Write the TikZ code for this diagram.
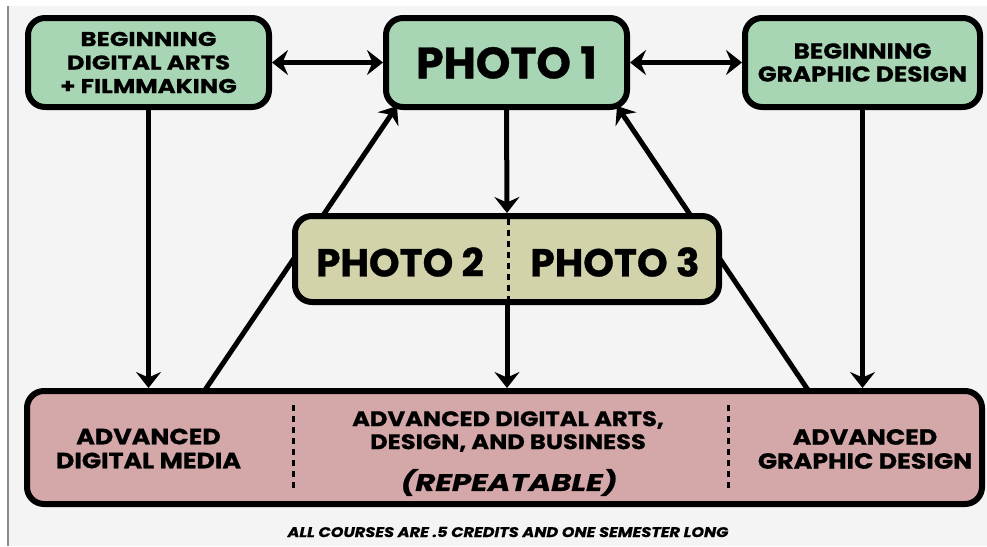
\documentclass[tikz,border=0pt]{standalone}
\usepackage{fontspec}
\setmainfont{Poppins}[FakeBold=0.8]
\newfontfamily\widefont{Poppins}[FakeStretch=1.15, FakeBold=0.8]
\newfontfamily\widerfont{Poppins}[FakeStretch=1.28, FakeBold=0.8]
\newfontfamily\widestfont{Poppins}[FakeStretch=1.22, FakeBold=0.8]
\usetikzlibrary{arrows.meta}
\definecolor{boxgreen}{HTML}{A8D5B4}
\definecolor{boxkhaki}{HTML}{D3D3AB}
\definecolor{boxpink}{HTML}{D4A7A8}
\definecolor{pagegray}{HTML}{F4F4F4}
\definecolor{edgegray}{HTML}{8A8A8A}
\tikzset{bigtip/.tip={Stealth[length=16pt,width=25pt,inset=5.5pt]}}
\begin{document}
\begin{tikzpicture}[x=1pt,y=-1pt,
  course/.style={draw=black, line width=6pt, rounded corners=17pt, inner sep=0pt, align=center},
  link/.style={line width=5pt, -bigtip},
  twoway/.style={line width=5pt, bigtip-bigtip},
  divider/.style={line width=3pt, dash pattern=on 6pt off 5pt},
  lbl/.style={align=center, inner sep=0pt, font=\widefont\fontsize{22}{24}\selectfont\bfseries}
]
\useasboundingbox (0,0) rectangle (987,546);
\fill[white] (0,0) rectangle (987,546);
\fill[pagegray] (8,6) rectangle (987,546);
\draw[edgegray, line width=1.2pt] (8,6) -- (8,546);

% diagonal connectors run behind the Photo 2/3 box
\coordinate (dl0) at (205,390);
\coordinate (dl1) at (397,106);
\coordinate (dr0) at (808,390);
\coordinate (dr1) at (617,106);
\draw[link] (dl0) -- (dl1);
\draw[link] (dr0) -- (dr1);

\node[course, fill=boxgreen, minimum width=241pt, minimum height=89pt,
      font=\widestfont\fontsize{20}{23.5}\selectfont\bfseries] (bda) at (148.5,62.5)
      {BEGINNING\\DIGITAL ARTS\\+ FILMMAKING};
\node[course, fill=boxgreen, minimum width=241pt, minimum height=89pt,
      font=\fontsize{44}{48}\selectfont\bfseries] (p1) at (506.5,62.5) {PHOTO 1};
\node[course, fill=boxgreen, minimum width=235pt, minimum height=89pt,
      font=\widefont\fontsize{21.5}{23}\selectfont\bfseries] (bgd) at (862.5,62.5)
      {BEGINNING\\GRAPHIC DESIGN};
\node[course, fill=boxkhaki, minimum width=424pt, minimum height=86pt] (p23) at (507,259) {};
\node[course, fill=boxpink, minimum width=955pt, minimum height=113pt] (adv) at (504.5,447.5) {};

\node[lbl, font=\fontsize{39}{40}\selectfont\bfseries] (t2) at (400,262) {PHOTO 2};
\node[lbl, font=\fontsize{39}{40}\selectfont\bfseries] (t3) at (615,262) {PHOTO 3};
\draw[divider] (508,219) -- (508,302);

\node[lbl] (adm) at (148.5,448.5) {ADVANCED\\DIGITAL MEDIA};
\node[lbl, font=\widefont\fontsize{21}{23}\selectfont\bfseries] (ada) at (508,431.5) {ADVANCED DIGITAL ARTS,\\DESIGN, AND BUSINESS};
\node[lbl, font=\widerfont\fontsize{24}{25}\selectfont\bfseries\itshape] (rep) at (509,482.5) {(REPEATABLE)};
\node[lbl] (agd) at (865,449) {ADVANCED\\GRAPHIC DESIGN};
\draw[divider] (293,405) -- (293,492);
\draw[divider] (728,405) -- (728,492);

\node[lbl, font=\widefont\fontsize{14}{15}\selectfont\bfseries\itshape] (note) at (508,532)
  {ALL COURSES ARE .5 CREDITS AND ONE SEMESTER LONG};

\draw[twoway] (bda.east) -- (p1.west);
\draw[twoway] (p1.east) -- (bgd.west);
\draw[link] (p1.south) -- (p23.north);
\draw[link] (p23.south) -- (p23.south |- adv.north);
\draw[link] (bda.south) -- (bda.south |- adv.north);
\draw[link] (bgd.south) -- (bgd.south |- adv.north);
\end{tikzpicture}
\end{document}
